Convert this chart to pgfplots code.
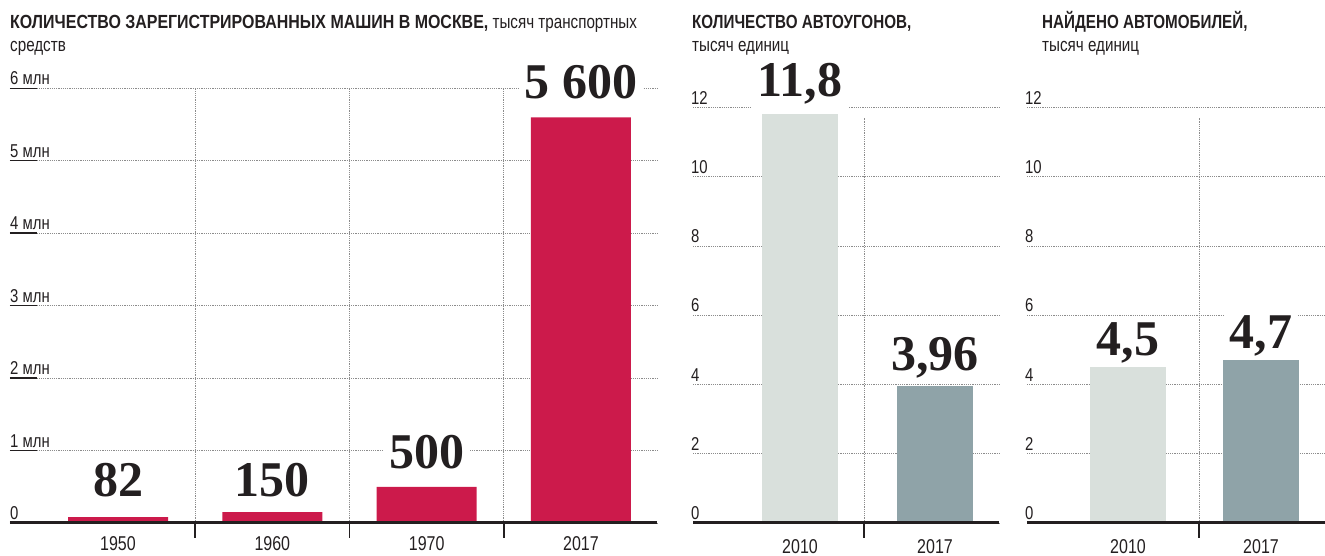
\documentclass[border=0pt]{standalone}
\usepackage{pgfplots}
\pgfplotsset{compat=1.18}
\usepackage{fontspec}
\setmainfont{Liberation Sans}
\newfontfamily\cond{Liberation Sans}[FakeStretch=0.8]
\newfontfamily\condw{Liberation Sans}[FakeStretch=0.84]
\newfontfamily\numf{Liberation Serif}
\definecolor{cred}{HTML}{CC1A4B}
\definecolor{clight}{HTML}{D9E0DC}
\definecolor{cdark}{HTML}{8FA3A8}
\definecolor{ctext}{HTML}{231F20}
\definecolor{gridc}{HTML}{8C8C8C}
\pgfplotsset{
  base/.style={
    scale only axis, anchor=south west, ymin=0, clip=false,
    axis x line=bottom, axis y line=left,
    x axis line style={draw=none}, y axis line style={draw=none},
    xtick style={draw=none}, ytick style={draw=none},
    ymajorgrids,
    major grid style={gridc, line width=0.9pt, dash pattern=on 1.2pt off 1pt},
    xticklabel style={font=\cond\fontsize{20}{20}\selectfont, text=ctext, anchor=base, yshift=-28pt},
    yticklabel style={font=\cond\fontsize{18.6}{18.6}\selectfont, text=ctext, anchor=south west, inner sep=0pt, yshift=3pt},
  },
}
\tikzset{
  vlab/.style={font=\numf\bfseries\fontsize{50}{50}\selectfont, text=ctext, fill=white, anchor=base, inner xsep=6pt, inner ysep=3pt},
  sep/.style={gridc, line width=0.9pt, dash pattern=on 1.2pt off 1pt},
  sept/.style={ctext, line width=1.5pt},
  basel/.style={ctext, line width=3pt},
  ttl/.style={anchor=base west, inner sep=0pt, font=\cond\fontsize{19}{19}\selectfont, text=ctext},
}
\begin{document}
\begin{tikzpicture}
\useasboundingbox (0,0) rectangle (1325pt,556pt);
% titles
\node[ttl] at (10pt,527.5pt) {{\condw\bfseries КОЛИЧЕСТВО ЗАРЕГИСТРИРОВАННЫХ МАШИН В МОСКВЕ,} тысяч транспортных};
\node[ttl] at (10pt,504pt) {средств};
\node[ttl] at (692pt,527.5pt) {\bfseries КОЛИЧЕСТВО АВТОУГОНОВ,};
\node[ttl] at (692pt,504pt) {тысяч единиц};
\node[ttl] at (1042pt,527.5pt) {\bfseries НАЙДЕНО АВТОМОБИЛЕЙ,};
\node[ttl] at (1042pt,504pt) {тысяч единиц};

% chart 1
\begin{axis}[base, at={(10pt,33pt)}, width=647pt, height=434.7pt,
  xmin=-0.6998, xmax=3.4925, ymax=6000,
  xtick={0,1,2,3}, xticklabels={1950,1960,1970,2017},
  ytick={0,1000,2000,3000,4000,5000,6000},
  yticklabels={0,1 млн,2 млн,3 млн,4 млн,5 млн,6 млн},
  ytick style={draw=ctext, line width=1.5pt}, tick align=inside, major tick length=27pt]
\addplot[ybar, bar width=100pt, bar shift=0pt, fill=cred, draw=none] coordinates {(0,82) (1,150) (2,500) (3,5600)};
\draw[sep] (axis cs:0.5,0) -- (axis cs:0.5,6000);
\draw[sep] (axis cs:1.5,0) -- (axis cs:1.5,6000);
\draw[sep] (axis cs:2.5,0) -- (axis cs:2.5,6000);
\draw[sept] (axis cs:0.5,0) -- ([yshift=-15pt]axis cs:0.5,0);
\draw[sept] (axis cs:1.5,0) -- ([yshift=-15pt]axis cs:1.5,0);
\draw[sept] (axis cs:2.5,0) -- ([yshift=-15pt]axis cs:2.5,0);
\draw[basel] (rel axis cs:0,0) -- (rel axis cs:1,0);
\node[vlab, yshift=16pt] at (axis cs:0,150) {82};
\node[vlab, yshift=16pt] at (axis cs:1,150) {150};
\node[vlab, yshift=18pt] at (axis cs:2,500) {500};
\node[vlab, yshift=19pt] at (axis cs:3,5600) {5 600};
\end{axis}

% chart 2
\begin{axis}[base, at={(693pt,33pt)}, width=306pt, height=415.5pt,
  xmin=-0.7926, xmax=1.474, ymax=12,
  xtick={0,1}, xticklabels={2010,2017},
  ytick={0,2,4,6,8,10,12}, yticklabels={0,2,4,6,8,10,12}]
\addplot[ybar, bar width=76pt, bar shift=0pt, fill=clight, draw=none] coordinates {(0,11.8)};
\addplot[ybar, bar width=76pt, bar shift=0pt, fill=cdark, draw=none] coordinates {(1,3.96)};
\draw[sep] (axis cs:0.474,0) -- (axis cs:0.474,11.7);
\draw[sept] (axis cs:0.474,0) -- ([yshift=-15pt]axis cs:0.474,0);
\draw[basel] (rel axis cs:0,0) -- (rel axis cs:1,0);
\node[vlab, inner ysep=9pt, yshift=18pt] at (axis cs:0,11.8) {11,8};
\node[vlab, yshift=15pt] at (axis cs:1,3.96) {3,96};
\end{axis}

% chart 3
\begin{axis}[base, at={(1027pt,33pt)}, width=298pt, height=415.5pt,
  xmin=-0.7594, xmax=1.4812, ymax=12,
  xtick={0,1}, xticklabels={2010,2017},
  ytick={0,2,4,6,8,10,12}, yticklabels={0,2,4,6,8,10,12}]
\addplot[ybar, bar width=76pt, bar shift=0pt, fill=clight, draw=none] coordinates {(0,4.5)};
\addplot[ybar, bar width=76pt, bar shift=0pt, fill=cdark, draw=none] coordinates {(1,4.7)};
\draw[sep] (axis cs:0.534,0) -- (axis cs:0.534,11.7);
\draw[sept] (axis cs:0.534,0) -- ([yshift=-15pt]axis cs:0.534,0);
\draw[basel] (rel axis cs:0,0) -- (rel axis cs:1,0);
\node[vlab, yshift=12pt] at (axis cs:0,4.5) {4,5};
\node[vlab, yshift=12pt] at (axis cs:1,4.7) {4,7};
\end{axis}
\end{tikzpicture}
\end{document}
